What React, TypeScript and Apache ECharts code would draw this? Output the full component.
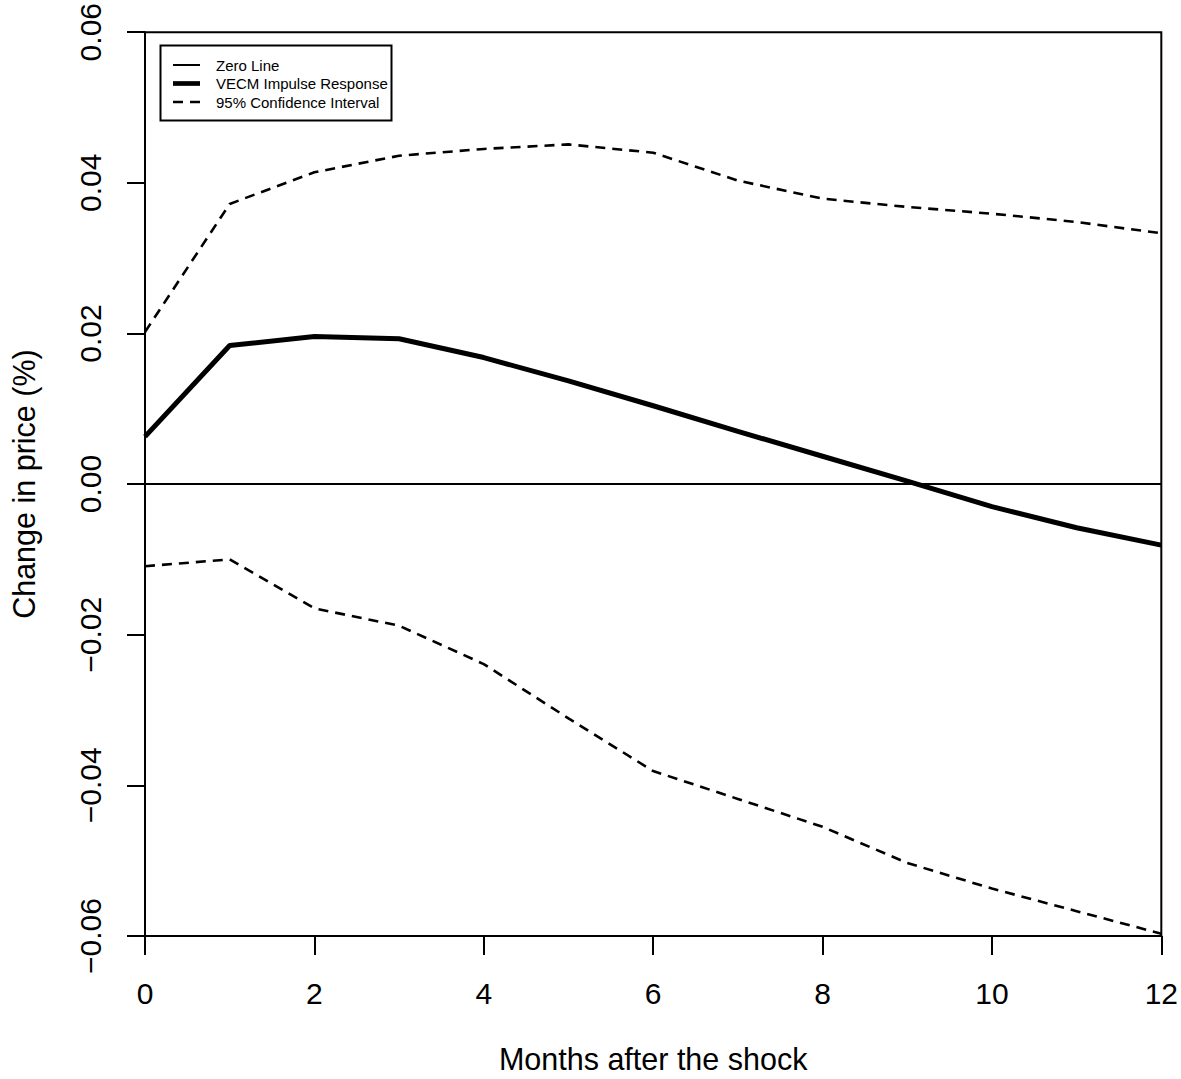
import React, { useEffect, useRef } from "react";
import * as echarts from "echarts";

const months = [0, 1, 2, 3, 4, 5, 6, 7, 8, 9, 10, 11, 12];
const irf = [0.0063, 0.0184, 0.0196, 0.0193, 0.0168, 0.0137, 0.0104, 0.007, 0.0037, 0.0004, -0.003, -0.0058, -0.0081];
const upperCI = [0.0202, 0.0372, 0.0414, 0.0436, 0.0445, 0.0451, 0.044, 0.0403, 0.0379, 0.0368, 0.0359, 0.0348, 0.0333];
const lowerCI = [-0.0109, -0.01, -0.0165, -0.0188, -0.0239, -0.0311, -0.0381, -0.0418, -0.0455, -0.0503, -0.0537, -0.0567, -0.0597];
const zeroLevel = 0;
const legendLabels = ["Zero Line", "VECM Impulse Response", "95% Confidence Interval"];
const xTitle = "Months after the shock";
const yTitle = "Change in price (%)";

const FONT = "'Liberation Sans', Arial, Helvetica, sans-serif";

export default function App() {
  const ref = useRef<HTMLDivElement>(null);
  useEffect(() => {
    if (!ref.current) return;
    const chart = echarts.init(ref.current, undefined, { renderer: "svg" });
    const pair = (arr: number[]) => months.map((m, i) => [m, arr[i]]);
    const zeroData = [[months[0], zeroLevel], [months[months.length - 1], zeroLevel]];
    const fmtY = (v: number) => {
      if (Math.abs(v) < 1e-9) return "0.00";
      return (v < 0 ? "\u2212" : "") + Math.abs(v).toFixed(2);
    };
    const legendX1 = 173, legendX2 = 200, textX = 216;
    const rows = [65, 83.5, 102];
    const legendStyles = [
      { lineWidth: 2, lineDash: null as any },
      { lineWidth: 4.7, lineDash: null as any },
      { lineWidth: 2.6, lineDash: [10, 7] },
    ];
    chart.setOption({
      animation: false,
      backgroundColor: "#fff",
      textStyle: { fontFamily: FONT },
      grid: {
        left: 140,
        top: 29,
        right: 15,
        bottom: 136,
        show: true,
        borderColor: "#000",
        borderWidth: 2,
        backgroundColor: "transparent",
      },
      xAxis: {
        type: "value",
        min: 0,
        max: 12,
        interval: 2,
        name: xTitle,
        nameLocation: "middle",
        nameGap: 107,
        nameTextStyle: { fontSize: 30.5, color: "#000", fontFamily: FONT },
        axisLine: { show: true, onZero: false, lineStyle: { color: "#000", width: 2 } },
        axisTick: { show: true, length: 19, lineStyle: { color: "#000", width: 2 } },
        axisLabel: { fontSize: 30, color: "#000", margin: 42, fontFamily: FONT, showMaxLabel: true, showMinLabel: true },
        splitLine: { show: false },
      },
      yAxis: {
        type: "value",
        min: -0.06,
        max: 0.06,
        interval: 0.02,
        name: yTitle,
        nameLocation: "middle",
        nameGap: 106,
        nameRotate: 90,
        nameTextStyle: { fontSize: 30.5, color: "#000", fontFamily: FONT },
        axisLine: { show: true, onZero: false, lineStyle: { color: "#000", width: 2 } },
        axisTick: { show: true, length: 18, lineStyle: { color: "#000", width: 2 } },
        axisLabel: {
          fontSize: 30,
          color: "#000",
          rotate: 90,
          margin: 40,
          fontFamily: FONT,
          formatter: fmtY,
          showMaxLabel: true,
          showMinLabel: true,
        },
        splitLine: { show: false },
      },
      series: [
        {
          name: legendLabels[0],
          type: "line",
          data: zeroData,
          symbol: "none",
          lineStyle: { color: "#000", width: 2 },
          z: 2,
        },
        {
          name: legendLabels[1],
          type: "line",
          data: pair(irf),
          symbol: "none",
          lineStyle: { color: "#000", width: 5 },
          z: 3,
        },
        {
          name: legendLabels[2],
          type: "line",
          data: pair(upperCI),
          symbol: "none",
          lineStyle: { color: "#000", width: 2.6, type: [10, 7] },
          z: 3,
        },
        {
          name: legendLabels[2] + " (lower)",
          type: "line",
          data: pair(lowerCI),
          symbol: "none",
          lineStyle: { color: "#000", width: 2.6, type: [10, 7] },
          z: 3,
        },
      ],
      graphic: [
        {
          type: "group",
          z: 100,
          children: [
            {
              type: "rect",
              shape: { x: 160.5, y: 45.5, width: 231, height: 75 },
              style: { fill: "#fff", stroke: "#000", lineWidth: 2 },
            },
            ...legendLabels.map((lab, i) => ({
              type: "line",
              shape: { x1: legendX1, y1: rows[i], x2: legendX2, y2: rows[i] },
              style: { stroke: "#000", lineWidth: legendStyles[i].lineWidth, lineDash: legendStyles[i].lineDash },
            })),
            ...legendLabels.map((lab, i) => ({
              type: "text",
              x: textX,
              y: rows[i],
              style: {
                text: lab,
                fill: "#000",
                font: `15px ${FONT}`,
                textVerticalAlign: "middle",
                verticalAlign: "middle",
                textAlign: "left",
              },
            })),
          ],
        },
      ],
    });
    return () => chart.dispose();
  }, []);
  return (
    <div
      ref={ref}
      style={{ position: "fixed", left: 0, top: 0, width: 1181, height: 1079, background: "#fff" }}
    />
  );
}
